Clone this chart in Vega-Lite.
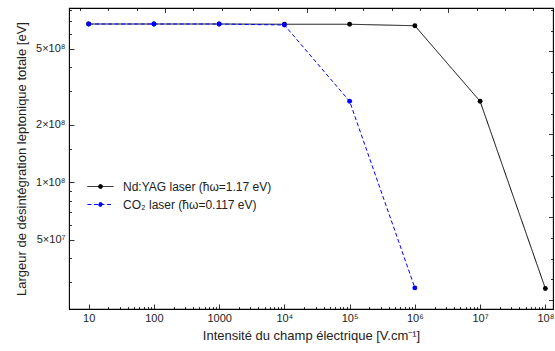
{
  "$schema": "https://vega.github.io/schema/vega-lite/v6.json",
  "width": 484,
  "height": 301,
  "autosize": {"type": "none"},
  "padding": {"left": 69, "top": 8, "right": 2, "bottom": 42},
  "background": "white",
  "config": {
    "view": {"stroke": "black", "strokeWidth": 1.1},
    "font": "Liberation Sans",
    "axis": {
      "domain": false,
      "grid": false,
      "tickColor": "black",
      "tickWidth": 0.8,
      "labelFont": "Liberation Sans",
      "labelFontSize": 11,
      "labelColor": "#222",
      "titleFont": "Liberation Sans",
      "titleFontSize": 13,
      "titleFontWeight": "normal",
      "titleColor": "#222",
      "labelFlush": false,
      "labelOverlap": false,
      "labelBound": false
    },
    "legend": {
      "labelFont": "Liberation Sans",
      "labelFontSize": 12,
      "labelColor": "#222"
    }
  },
  "data": {
    "values": [
      {"E": 10, "G": 676000000, "series": "Nd:YAG laser (ħω=1.17 eV)"},
      {"E": 100, "G": 676000000, "series": "Nd:YAG laser (ħω=1.17 eV)"},
      {"E": 1000, "G": 676000000, "series": "Nd:YAG laser (ħω=1.17 eV)"},
      {"E": 10000, "G": 674000000, "series": "Nd:YAG laser (ħω=1.17 eV)"},
      {"E": 100000, "G": 674000000, "series": "Nd:YAG laser (ħω=1.17 eV)"},
      {"E": 1000000, "G": 662000000, "series": "Nd:YAG laser (ħω=1.17 eV)"},
      {"E": 10000000, "G": 266000000, "series": "Nd:YAG laser (ħω=1.17 eV)"},
      {"E": 100000000, "G": 27800000, "series": "Nd:YAG laser (ħω=1.17 eV)"},
      {"E": 10, "G": 676000000, "series": "CO₂ laser (ħω=0.117 eV)"},
      {"E": 100, "G": 676000000, "series": "CO₂ laser (ħω=0.117 eV)"},
      {"E": 1000, "G": 676000000, "series": "CO₂ laser (ħω=0.117 eV)"},
      {"E": 10000, "G": 668000000, "series": "CO₂ laser (ħω=0.117 eV)"},
      {"E": 100000, "G": 266000000, "series": "CO₂ laser (ħω=0.117 eV)"},
      {"E": 1000000, "G": 28000000, "series": "CO₂ laser (ħω=0.117 eV)"}
    ]
  },
  "layer": [
    {
      "mark": {"type": "line", "strokeWidth": 1, "clip": true},
      "encoding": {
        "x": {
          "field": "E", "type": "quantitative",
          "scale": {"type": "log", "domain": [5, 131000000], "nice": false},
          "axis": {
            "orient": "bottom",
            "title": "Intensité du champ électrique [V.cm⁻¹]",
            "titlePadding": 4,
            "values": [10,20,30,40,50,60,70,80,90,100,200,300,400,500,600,700,800,900,1000,2000,3000,4000,5000,6000,7000,8000,9000,10000,20000,30000,40000,50000,60000,70000,80000,90000,100000,200000,300000,400000,500000,600000,700000,800000,900000,1000000,2000000,3000000,4000000,5000000,6000000,7000000,8000000,9000000,10000000,20000000,30000000,40000000,50000000,60000000,70000000,80000000,90000000,100000000],
            "tickSize": {"condition": {"test": "indexof([10,100,1000,10000,100000,1000000,10000000,100000000], datum.value) >= 0", "value": -5}, "value": -2.5},
            "labelPadding": 8,
            "labelExpr": "datum.value == 10 ? '10' : datum.value == 100 ? '100' : datum.value == 1000 ? '1000' : datum.value == 10000 ? '10⁴' : datum.value == 100000 ? '10⁵' : datum.value == 1000000 ? '10⁶' : datum.value == 10000000 ? '10⁷' : datum.value == 100000000 ? '10⁸' : ''"
          }
        },
        "y": {
          "field": "G", "type": "quantitative",
          "scale": {"type": "log", "domain": [21700000, 820000000], "nice": false},
          "axis": {
            "orient": "left",
            "title": "Largeur de désintégration leptonique totale [eV]",
            "titlePadding": 7,
            "values": [30000000,40000000,50000000,60000000,70000000,80000000,90000000,100000000,150000000,200000000,300000000,400000000,500000000,600000000,700000000,800000000],
            "tickSize": {"condition": {"test": "indexof([50000000,100000000,200000000,500000000], datum.value) >= 0", "value": -5}, "value": -2.5},
            "labelPadding": 9,
            "labelExpr": "datum.value == 50000000 ? '5×10⁷' : datum.value == 100000000 ? '1×10⁸' : datum.value == 200000000 ? '2×10⁸' : datum.value == 500000000 ? '5×10⁸' : ''"
          }
        },
        "color": {
          "field": "series", "type": "nominal",
          "scale": {"domain": ["Nd:YAG laser (ħω=1.17 eV)", "CO₂ laser (ħω=0.117 eV)"], "range": ["black", "#0000ff"]},
          "legend": {
            "title": null,
            "orient": "none",
            "legendX": 22,
            "legendY": 169,
            "symbolType": "M-1.45,0H1.45M-0.22,0A0.22,0.22 0 1,0 0.22,0A0.22,0.22 0 1,0 -0.22,0",
            "symbolSize": 324,
            "symbolStrokeWidth": 1,
            "rowPadding": 2,
            "labelOffset": 13
          }
        },
        "strokeDash": {
          "field": "series", "type": "nominal",
          "scale": {"domain": ["Nd:YAG laser (ħω=1.17 eV)", "CO₂ laser (ħω=0.117 eV)"], "range": [[1, 0], [4, 2.5]]},
          "legend": {
            "title": null,
            "orient": "none",
            "legendX": 22,
            "legendY": 169,
            "symbolType": "M-1.45,0H1.45M-0.22,0A0.22,0.22 0 1,0 0.22,0A0.22,0.22 0 1,0 -0.22,0",
            "symbolSize": 324,
            "symbolStrokeWidth": 1,
            "rowPadding": 2,
            "labelOffset": 13
          }
        }
      }
    },
    {
      "mark": {"type": "point", "filled": true, "opacity": 1, "size": 24, "clip": true},
      "encoding": {
        "x": {"field": "E", "type": "quantitative", "axis": null},
        "y": {"field": "G", "type": "quantitative", "axis": null},
        "color": {"field": "series", "type": "nominal"}
      }
    },
    {
      "mark": {"type": "point", "opacity": 0},
      "encoding": {
        "x": {
          "field": "E", "type": "quantitative",
          "axis": {
            "orient": "top", "title": null, "labels": false,
            "values": [7.389, 20.086, 54.598, 148.41, 403.43, 1096.6, 2981.0, 8103.1, 22026.5, 59874.1, 162754.8, 442413.4, 1202604, 3269017, 8886111, 24154953, 65659969],
            "tickSize": {"condition": {"test": "indexof([148.41, 22026.5, 3269017], datum.value) >= 0", "value": -4.5}, "value": -2.5}
          }
        },
        "y": {
          "field": "G", "type": "quantitative",
          "axis": {
            "orient": "right", "title": null, "labels": false,
            "values": [24154953, 31015563, 39824785, 51135987, 65659969, 84309429, 108254988, 139002155, 178482301, 229180750, 294267566, 377841034, 485165195, 622964229, 799902177],
            "tickSize": {"condition": {"test": "indexof([24154953, 65659969, 178482301, 485165195], datum.value) >= 0", "value": -4.5}, "value": -2.5}
          }
        }
      }
    }
  ],
  "resolve": {"axis": {"x": "independent", "y": "independent"}}
}
